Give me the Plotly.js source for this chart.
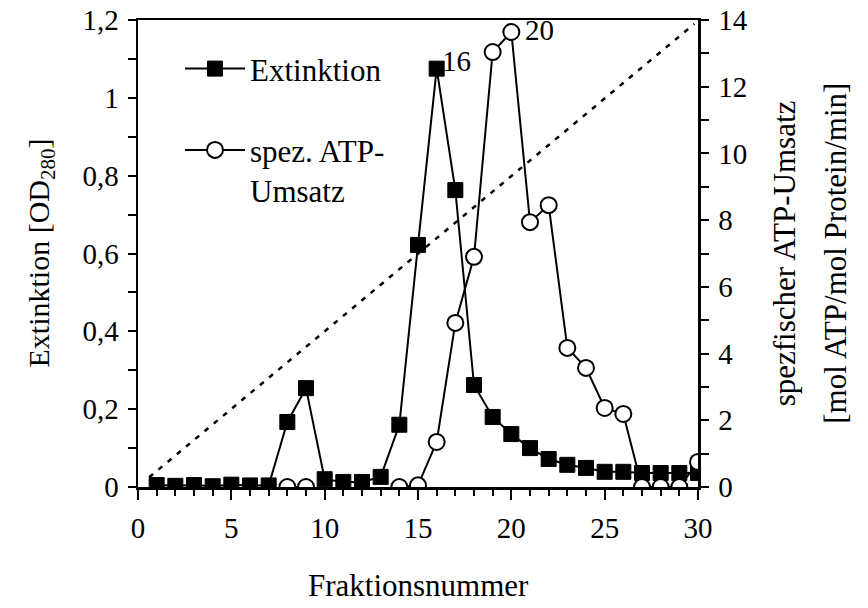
<!DOCTYPE html>
<html>
<head>
<meta charset="utf-8">
<script src="https://cdn.plot.ly/plotly-3.0.1.min.js"></script>
<style>html,body{margin:0;padding:0;background:#fff;}#chart{width:868px;height:608px;}</style>
</head>
<body>
<div id="chart"></div>
<script>
const fraktion = [1,2,3,4,5,6,7,8,9,10,11,12,13,14,15,16,17,18,19,20,21,22,23,24,25,26,27,28,29,30];
const extinktion = [0.005,0.003,0.005,0.002,0.006,0.004,0.004,0.167,0.254,0.02,0.013,0.013,0.026,0.16,0.622,1.075,0.763,0.262,0.18,0.136,0.1,0.072,0.057,0.049,0.039,0.039,0.036,0.036,0.036,0.036];
const atpUmsatz = [null,null,null,null,null,null,null,0,0,null,null,null,null,0,0.05,1.35,4.92,6.9,13.04,13.64,7.94,8.45,4.17,3.57,2.37,2.19,0,0,0,0.75];
const gradientX = [0.6, 29.8];
const gradientY = [0.025, 1.19];
const xTickVals = [0,5,10,15,20,25,30];

const FONT = 'Liberation Serif, Times New Roman, serif';

const traces = [
  {x: gradientX, y: gradientY, mode: 'lines', line: {color: '#000', width: 2.5, dash: '5px,7px'}, showlegend: false, hoverinfo: 'skip'},
  {x: fraktion, y: extinktion, name: 'Extinktion', mode: 'lines+markers', line: {color: '#000', width: 2},
   marker: {symbol: 'square', size: 15, color: '#000', line: {color: '#000', width: 1}}, legendgroup: 'a'},
  {x: fraktion, y: atpUmsatz, name: 'spez. ATP-<br>Umsatz', yaxis: 'y2', mode: 'lines+markers', connectgaps: false,
   line: {color: '#000', width: 2}, marker: {symbol: 'circle', size: 16, color: '#fff', line: {color: '#000', width: 2}}, legendgroup: 'b'}
];

const axisCommon = {showline: true, linecolor: '#000', linewidth: 2.5, showgrid: false, zeroline: false,
  ticks: 'outside', tickcolor: '#000', tickwidth: 2, tickfont: {family: FONT, size: 29, color: '#000'}};

const layout = {
  width: 868, height: 608,
  margin: {l: 138, r: 170, t: 20, b: 121},
  paper_bgcolor: '#fff', plot_bgcolor: '#fff',
  separators: ', ',
  font: {family: FONT, color: '#000'},
  xaxis: Object.assign({}, axisCommon, {range: [0, 30], tickvals: xTickVals, ticklen: 10, mirror: true, ticklabelstandoff: 4,
    minor: {dtick: 1, ticks: 'outside', ticklen: 6, tickwidth: 2, tickcolor: '#000'}}),
  yaxis: Object.assign({}, axisCommon, {range: [0, 1.2], dtick: 0.2, ticklen: 8, mirror: true, ticklabelstandoff: 3,
    minor: {dtick: 0.1, ticks: 'outside', ticklen: 8, tickwidth: 2, tickcolor: '#000'}}),
  yaxis2: Object.assign({}, axisCommon, {range: [0, 14], dtick: 2, ticklen: 8, overlaying: 'y', side: 'right', ticklabelstandoff: 4,
    minor: {dtick: 1, ticks: 'outside', ticklen: 8, tickwidth: 2, tickcolor: '#000'}}),
  showlegend: true,
  legend: {x: 0.075, y: 0.953, xanchor: 'left', yanchor: 'top', bgcolor: 'rgba(0,0,0,0)', borderwidth: 0, itemwidth: 60,
    font: {family: FONT, size: 31, color: '#000'}, tracegroupgap: 38, valign: 'top'},
  annotations: [
    {text: 'Fraktionsnummer', xref: 'paper', yref: 'paper', x: 0.5, y: -0.21, xanchor: 'center', yanchor: 'middle', showarrow: false, font: {family: FONT, size: 31}},
    {text: 'Extinktion [OD<sub>280</sub>]', xref: 'paper', yref: 'paper', x: -0.175, y: 0.5, textangle: -90, xanchor: 'center', yanchor: 'middle', showarrow: false, font: {family: FONT, size: 30}},
    {text: 'spezfischer ATP-Umsatz', xref: 'paper', yref: 'paper', x: 1.155, y: 0.5, textangle: -90, xanchor: 'center', yanchor: 'middle', showarrow: false, font: {family: FONT, size: 31}},
    {text: '[mol ATP/mol Protein/min]', xref: 'paper', yref: 'paper', x: 1.245, y: 0.5, textangle: -90, xanchor: 'center', yanchor: 'middle', showarrow: false, font: {family: FONT, size: 31}},
    {text: '16', xref: 'x', yref: 'y', x: 16, y: 1.075, xanchor: 'left', yanchor: 'middle', xshift: 3, yshift: 8, showarrow: false, font: {family: FONT, size: 29}},
    {text: '20', xref: 'x', yref: 'y2', x: 20, y: 13.64, xanchor: 'left', yanchor: 'middle', xshift: 12, yshift: 2, showarrow: false, font: {family: FONT, size: 29}}
  ]
};

Plotly.newPlot('chart', traces, layout, {displayModeBar: false, staticPlot: true});
</script>
</body>
</html>
